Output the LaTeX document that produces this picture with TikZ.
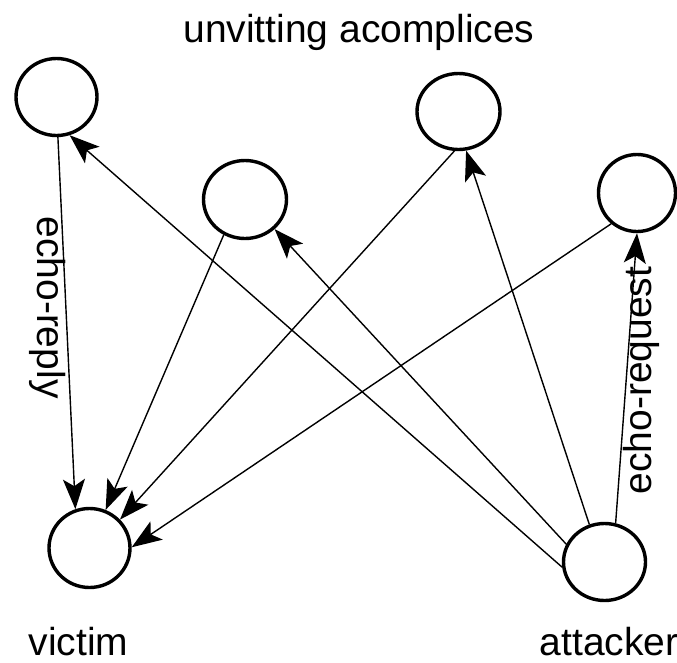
\documentclass[tikz,border=0pt]{standalone}
\usepackage{fontspec}
\setmainfont{Liberation Sans}
\usetikzlibrary{arrows.meta,shapes.geometric}
\begin{document}
\begin{tikzpicture}[x=1pt,y=-1pt,
  host/.style={ellipse,draw,line width=3.4pt,inner sep=0pt,
    minimum width=#1},
  host/.default=81pt,
  flow/.style={line width=1.4pt,-{Stealth[length=30pt,width=22pt,inset=7pt]}},
  lbl/.style={inner sep=0pt,font=\fontsize{39}{46}\selectfont}
]
\useasboundingbox (0,0) rectangle (677,662);

% hosts
\node[host=81pt,minimum height=77pt] (a1) at (56.5,97) {};
\node[host=83pt,minimum height=78pt] (a2) at (245,199.5) {};
\node[host=83pt,minimum height=76pt] (a3) at (458.5,111.5) {};
\node[host=77pt,minimum height=77pt] (a4) at (637,193) {};
\node[host=81pt,minimum height=79pt] (vic) at (89.5,548) {};
\node[host=82pt,minimum height=77pt] (att) at (604.5,562) {};

% labels
\node[lbl,anchor=base] (title) at (359,42) {unvitting acomplices};
\node[lbl,anchor=base] (victim) at (78.5,655) {victim};
\node[lbl,anchor=base] (attacker) at (609,655) {attacker};
\node[lbl,anchor=base,rotate=-90] (reply) at (37,307.5) {echo-reply};
\node[lbl,anchor=base,rotate=90] (request) at (651,380.5) {echo-request};

% replies to the victim
\draw[flow] (a1.-88) -- (vic.110);
\draw[flow] (a2.-121) -- (vic.67.6);
\draw[flow] (a3.-96) -- (vic.43.6);
\draw[flow] (a4.-130) -- (vic.1.5);

% requests from the attacker
\draw[flow] (att.-173) -- (a1.-71);
\draw[flow] (att.155) -- (a2.-45.6);
\draw[flow] (att.112.7) -- (a3.-79.3);
\draw[flow] (att.74.2) -- (a4.-90);
\end{tikzpicture}
\end{document}
